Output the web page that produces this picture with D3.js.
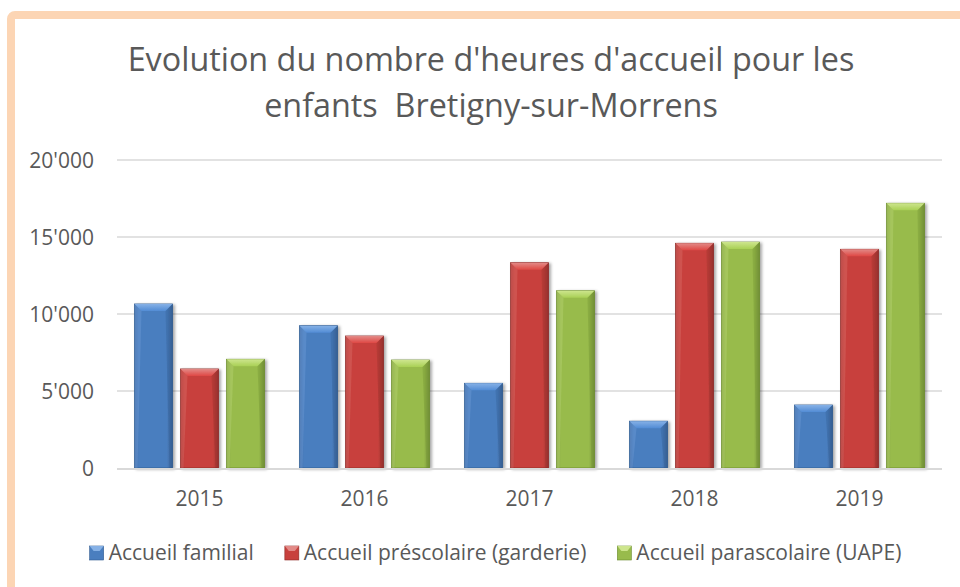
<!DOCTYPE html>
<html>

<head>
    <meta charset="utf-8">
    <title>Evolution heures d'accueil</title>
    <script src="https://d3js.org/d3.v7.min.js"></script>
    <style>
        body { margin: 0; background: #fff; }
        text { font-family: "Open Sans", sans-serif; fill: #595959; white-space: pre; }
    </style>
</head>

<body>
    <script>
    var years = ["2015", "2016", "2017", "2018", "2019"];
    var seriesNames = ["Accueil familial", "Accueil préscolaire (garderie)", "Accueil parascolaire (UAPE)"];
    var familial = [10650, 9240, 5500, 3040, 4090];
    var prescolaire = [6430, 8570, 13330, 14590, 14200];
    var parascolaire = [7060, 7010, 11510, 14670, 17190];
    var yTicks = [0, 5000, 10000, 15000, 20000];
    var titleLines = ["Evolution du nombre d'heures d'accueil pour les", "enfants  Bretigny-sur-Morrens"];

    var colors = [
        { main: "#4a7ebf", light: "#86b1e6", dark: "#2f5a8f" },
        { main: "#c8413d", light: "#e28a87", dark: "#8c2a27" },
        { main: "#98bb4c", light: "#cde58d", dark: "#6a8a2c" }
    ];

    var W = 960, H = 587;
    var svg = d3.select("body").append("svg").attr("width", W).attr("height", H);

    var defs = svg.append("defs");
    var shadow = defs.append("filter").attr("id", "shadow")
        .attr("x", "-20%").attr("y", "-10%").attr("width", "150%").attr("height", "130%");
    shadow.append("feDropShadow").attr("dx", 2).attr("dy", 1).attr("stdDeviation", 1.8)
        .attr("flood-color", "#000").attr("flood-opacity", 0.35);

    colors.forEach(function(c, i) {
        var g = defs.append("linearGradient").attr("id", "side" + i)
            .attr("x1", 0).attr("x2", 1).attr("y1", 0).attr("y2", 0);
        g.append("stop").attr("offset", "0%").attr("stop-color", d3.color(c.main).darker(0.35));
        g.append("stop").attr("offset", "12%").attr("stop-color", c.main);
        g.append("stop").attr("offset", "85%").attr("stop-color", c.main);
        g.append("stop").attr("offset", "100%").attr("stop-color", d3.color(c.main).darker(0.7));
        var t = defs.append("linearGradient").attr("id", "top" + i)
            .attr("x1", 0).attr("x2", 0).attr("y1", 0).attr("y2", 1);
        t.append("stop").attr("offset", "0%").attr("stop-color", c.light);
        t.append("stop").attr("offset", "100%").attr("stop-color", d3.color(c.main).brighter(0.3));
    });

    // frame
    svg.append("rect").attr("x", 11).attr("y", 15).attr("width", 990).attr("height", 640)
        .attr("rx", 4).attr("fill", "none").attr("stroke", "#fcd5b4").attr("stroke-width", 8);

    // title
    var title = svg.append("g");
    titleLines.forEach(function(line, i) {
        var t = title.append("text").attr("x", 491).attr("y", 71 + i * 46)
            .attr("text-anchor", "middle").style("font-size", "30px").text(line);
        if (i === 0) {
            var fs = 30 * 727 / t.node().getComputedTextLength();
            title.selectAll("text").style("font-size", fs + "px");
        } else {
            t.style("font-size", title.select("text").style("font-size"));
        }
    });

    var y = d3.scaleLinear().domain([0, 20000]).range([468, 160]);
    var x = d3.scaleBand().domain(years).range([117, 942]).paddingInner(0.212).paddingOuter(0.106);
    var xs = d3.scaleBand().domain([0, 1, 2]).range([0, x.bandwidth()]).paddingInner(0.174);

    var loc = d3.formatLocale({ decimal: ".", thousands: "'", grouping: [3], currency: ["", ""] });
    var fmt = loc.format(",d");

    // grid
    svg.append("g").selectAll("line").data(yTicks.slice(1)).join("line")
        .attr("x1", 117).attr("x2", 942)
        .attr("y1", function(d) { return y(d); }).attr("y2", function(d) { return y(d); })
        .attr("stroke", "#d9d9d9").attr("stroke-width", 1.5);

    var yAxis = svg.append("g").attr("transform", "translate(103,0)")
        .call(d3.axisLeft(y).tickValues(yTicks).tickFormat(fmt).tickSize(0).tickPadding(9));
    yAxis.select(".domain").remove();
    yAxis.selectAll("text").style("font-size", "21px").attr("dy", "0.35em").attr("fill", "#595959");

    var allSeries = [familial, prescolaire, parascolaire];
    var rows = [];
    years.forEach(function(yr, i) {
        allSeries.forEach(function(s, k) {
            rows.push({ year: yr, k: k, v: s[i] });
        });
    });

    var bars = svg.append("g").selectAll("g").data(rows).join("g")
        .attr("filter", "url(#shadow)");
    var b = 7;
    bars.append("rect")
        .attr("x", function(d) { return x(d.year) + xs(d.k); })
        .attr("y", function(d) { return y(d.v); })
        .attr("width", xs.bandwidth())
        .attr("height", function(d) { return y(0) - y(d.v); })
        .attr("fill", function(d) { return "url(#side" + d.k + ")"; })
        .attr("stroke", function(d) { return colors[d.k].dark; })
        .attr("stroke-width", 0.8);
    bars.append("polygon")
        .attr("points", function(d) {
            var x0 = x(d.year) + xs(d.k), x1 = x0 + xs.bandwidth(), y0 = y(d.v);
            return [[x0, y0], [x1, y0], [x1 - b, y0 + b], [x0 + b, y0 + b]].join(" ");
        })
        .attr("fill", function(d) { return "url(#top" + d.k + ")"; });
    bars.append("polygon")
        .attr("points", function(d) {
            var x0 = x(d.year) + xs(d.k), y0 = y(d.v);
            return [[x0, y0], [x0 + b, y0 + b], [x0 + 3, y(0)], [x0, y(0)]].join(" ");
        })
        .attr("fill", function(d) { return colors[d.k].light; }).attr("opacity", 0.25);
    bars.append("polygon")
        .attr("points", function(d) {
            var x1 = x(d.year) + xs(d.k) + xs.bandwidth(), y0 = y(d.v);
            return [[x1, y0], [x1 - b, y0 + b], [x1 - 3, y(0)], [x1, y(0)]].join(" ");
        })
        .attr("fill", function(d) { return colors[d.k].dark; }).attr("opacity", 0.3);

    // baseline
    svg.append("line").attr("x1", 117).attr("x2", 942).attr("y1", y(0) + 1).attr("y2", y(0) + 1)
        .attr("stroke", "#d9d9d9").attr("stroke-width", 2);

    var xAxis = svg.append("g").attr("transform", "translate(0," + (y(0) + 1) + ")")
        .call(d3.axisBottom(x).tickSize(0).tickPadding(22));
    xAxis.select(".domain").remove();
    xAxis.selectAll("text").style("font-size", "21px").attr("fill", "#595959");

    // legend
    var legend = svg.append("g");
    var lx = 0;
    seriesNames.forEach(function(name, k) {
        var g = legend.append("g");
        g.append("rect").attr("x", 0).attr("y", -7).attr("width", 14).attr("height", 14)
            .attr("fill", colors[k].main).attr("stroke", colors[k].dark).attr("stroke-width", 0.6);
        g.append("polygon").attr("points", "0,-7 14,-7 10,-2 4,-2").attr("fill", colors[k].light);
        var t = g.append("text").attr("x", 19).attr("y", 0).attr("dy", "0.35em")
            .style("font-size", "21px").text(name);
        g.attr("transform", "translate(" + lx + ",0)");
        lx += 19 + t.node().getComputedTextLength() + 31;
    });
    lx -= 31;
    legend.attr("transform", "translate(" + (495.5 - lx / 2) + ",553)");
    </script>
</body>

</html>
